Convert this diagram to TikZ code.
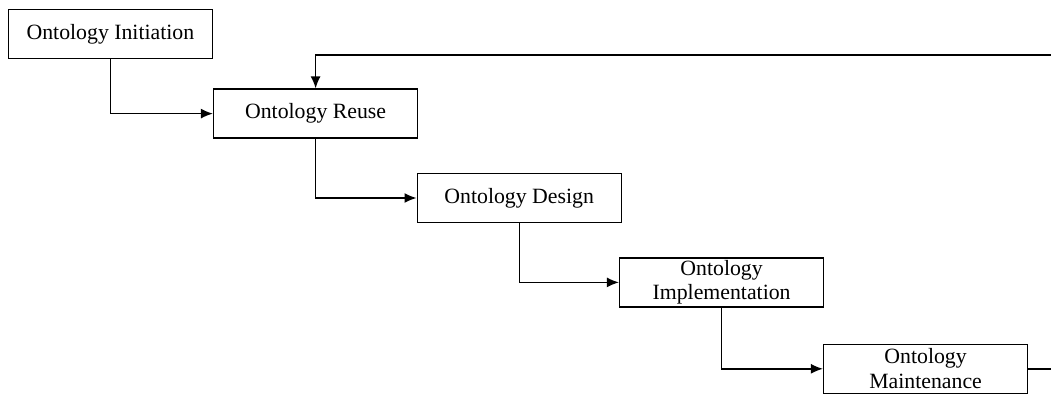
\documentclass[tikz,border=0pt]{standalone}
\usepackage{fontspec}
\setmainfont{Liberation Serif}
\usetikzlibrary{arrows.meta}
\tikzset{
  phasebox/.style={draw, line width=1pt, minimum width=5.1cm, minimum height=1.225cm,
    inner sep=0pt, align=center, font=\fontsize{15.5}{19.5}\selectfont}
}
\begin{document}
\begin{tikzpicture}[>={Latex[length=3mm,width=2.5mm]}, line width=1pt]
  \path[use as bounding box] (0,0) rectangle (26.275,-9.875);
  \clip (0,0) rectangle (26.275,-9.875);
  \node[phasebox] (init) at (2.76,-0.85) {Ontology Initiation};
  \node[phasebox] (reuse) at (7.89,-2.84) {Ontology Reuse};
  \node[phasebox] (design) at (12.98,-4.95) {Ontology Design};
  \node[phasebox] (impl) at (18.04,-7.06) {Ontology\\[-2pt]Implementation};
  \node[phasebox] (maint) at (23.14,-9.22) {Ontology\\[-2pt]Maintenance};
  \foreach \a/\b in {init/reuse, reuse/design, design/impl, impl/maint}
    \draw[->] (\a.south) |- (\b.west);
  % feedback loop, runs off the right edge
  \coordinate (fbR) at (27.0,-9.22);
  \coordinate (fbT) at (27.0,-1.375);
  \draw[->] (maint.east) -- (fbR) -- (fbT) -| (reuse.north);
\end{tikzpicture}
\end{document}
